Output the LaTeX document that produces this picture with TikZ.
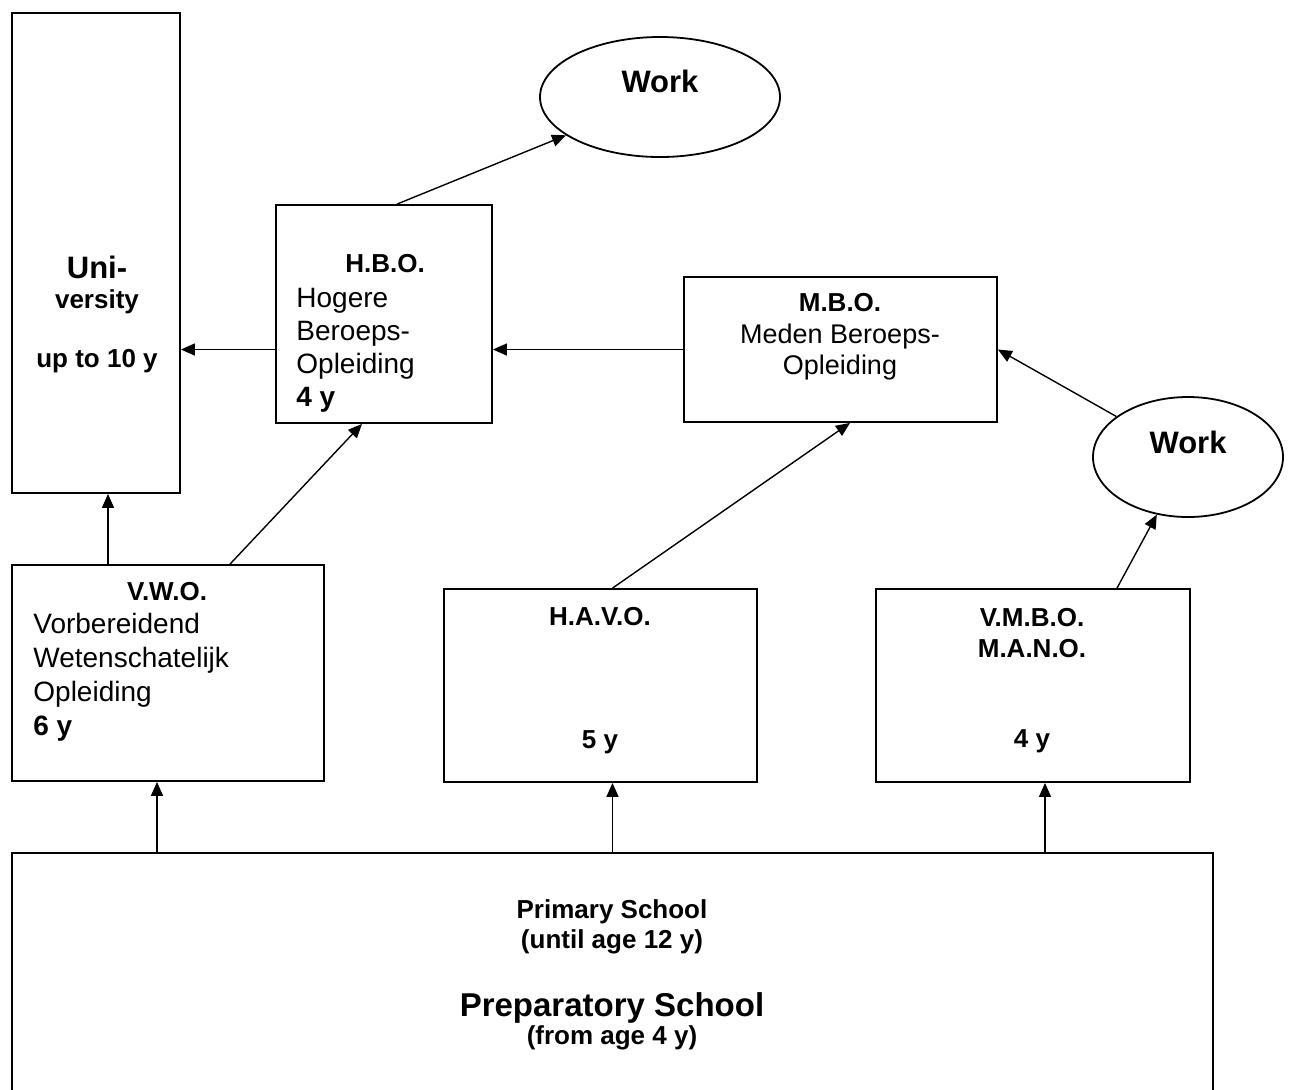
\documentclass[tikz,border=0pt]{standalone}
\usepackage{fontspec}
\setmainfont{Liberation Sans}
\usetikzlibrary{arrows.meta,positioning,shapes.geometric}

\begin{document}
\begin{tikzpicture}[x=0.5pt, y=-0.5pt,
    >={Triangle[length=7pt,width=6pt]},
    box/.style={draw, line width=0.9pt, inner sep=0pt},
    oval/.style={draw, ellipse, line width=0.9pt, inner sep=0pt},
    link/.style={->, line width=0.7pt},
    body/.style={inner sep=0pt, align=left, font=\fontsize{14}{16.5}\selectfont},
    lbl/.style={inner sep=0pt, align=center, font=\fontsize{13}{15.5}\selectfont\bfseries},
    big/.style={inner sep=0pt, font=\fontsize{15.5}{18}\selectfont\bfseries}]

    \useasboundingbox (0,0) rectangle (1290,1089);
    \clip (0,0) rectangle (1290,1089);

    % boxes
    \node[box, minimum width=84pt,    minimum height=240pt]   (univ) at (96,253) {};
    \node[box, minimum width=108pt,   minimum height=109pt]   (hbo)  at (384,314) {};
    \node[box, minimum width=156.5pt, minimum height=72.5pt]  (mbo)  at (840.5,349.5) {};
    \node[box, minimum width=156pt,   minimum height=108pt]   (vwo)  at (168,673) {};
    \node[box, minimum width=156.5pt, minimum height=96.5pt]  (havo) at (600.5,685.5) {};
    \node[box, minimum width=157pt,   minimum height=96.5pt]  (vmbo) at (1033,685.5) {};
    \node[box, minimum width=600.5pt, minimum height=133.5pt] (prim) at (612.5,986.5) {};
    \node[oval, minimum width=120pt, minimum height=60pt] (work1) at (660,97) {};
    \node[oval, minimum width=95pt,  minimum height=60pt] (work2) at (1188,457) {};

    % texts
    \node[big, anchor=base] (univ-a) at (97,278) {Uni-};
    \node[lbl, anchor=base] (univ-b) at (97,308) {versity};
    \node[lbl, anchor=base] (univ-c) at (97,367) {up to 10 y};

    \node[lbl, anchor=base] (hbo-a) at (385,272) {H.B.O.};
    \node[body, anchor=north west] (hbo-b) at (296,288) {Hogere\\Beroeps-\\Opleiding\\\textbf{4 y}};

    \node[lbl, anchor=base] (mbo-a) at (840,311) {M.B.O.};
    \node[body, anchor=base, align=center, font=\fontsize{13.5}{15.5}\selectfont]
        (mbo-b) at (840,374) {Meden Beroeps-\\Opleiding};

    \node[lbl, anchor=base] (vwo-a) at (167,600) {V.W.O.};
    \node[body, anchor=north west, font=\fontsize{14}{17}\selectfont]
        (vwo-b) at (33,613) {Vorbereidend\\Wetenschatelijk\\Opleiding\\\textbf{6 y}};

    \node[lbl, anchor=base] (havo-a) at (600,625) {H.A.V.O.};
    \node[lbl, anchor=base] (havo-b) at (600,748) {5 y};

    \node[lbl, anchor=north] (vmbo-a) at (1032,608) {V.M.B.O.\\M.A.N.O.};
    \node[lbl, anchor=base] (vmbo-b) at (1032,747) {4 y};

    \node[big, anchor=base] (work1-t) at (660,92) {Work};
    \node[big, anchor=base] (work2-t) at (1188,453) {Work};

    \node[lbl, anchor=base] (prim-a) at (612,918) {Primary School};
    \node[lbl, anchor=base] (prim-b) at (612,948) {(until age 12 y)};
    \node[big, anchor=base, font=\fontsize{16.5}{19}\selectfont\bfseries]
        (prim-c) at (612,1016) {Preparatory School};
    \node[lbl, anchor=base] (prim-d) at (612,1044) {(from age 4 y)};

    % connectors
    \draw[link] (mbo.west) -- (hbo.east |- mbo.west);
    \draw[link] (hbo.west |- mbo.west) -- (univ.east |- mbo.west);
    \draw[link] ([xshift=6.5pt]hbo.north) -- (work1);
    \draw[link] (work2) -- (mbo.east);
    \draw[link] ([xshift=42pt]vmbo.north) -- (work2);
    \draw[link] ([xshift=-30pt]vwo.north) -- ([xshift=6pt]univ.south);
    \draw[link] ([xshift=31pt]vwo.north) -- ([xshift=-11pt]hbo.south);
    \draw[link] ([xshift=6pt]havo.north) -- ([xshift=4.75pt]mbo.south);
    \draw[link] ([xshift=-5.5pt]vwo.south |- prim.north) -- ([xshift=-5.5pt]vwo.south);
    \draw[link] ([xshift=6pt]havo.south |- prim.north) -- ([xshift=6pt]havo.south);
    \draw[link] ([xshift=6pt]vmbo.south |- prim.north) -- ([xshift=6pt]vmbo.south);
\end{tikzpicture}
\end{document}
